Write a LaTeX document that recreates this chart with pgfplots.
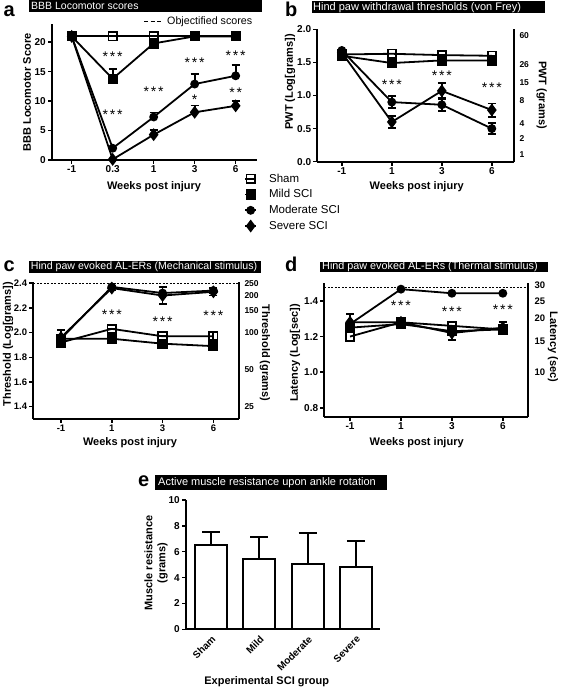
\documentclass[border=0pt]{standalone}
\usepackage{fontspec}
\setmainfont{Liberation Sans}
\usepackage{pgfplots}
\pgfplotsset{compat=1.18}
\newcommand\three{*\kern1.8pt*\kern1.8pt*}
\newcommand\two{*\kern1.8pt*}
\pgfplotsset{
 prism/.style={
  scale only axis, anchor=south west, clip=false,
  axis x line*=bottom, axis y line*=left,
  axis line style={line width=1.8pt,-},
  tick style={line width=1.5pt,black},
  tick align=outside, major tick length=4pt,
  tick label style={font=\bfseries\fontsize{10}{12}\selectfont},
  /pgf/number format/assume math mode=true,
  xticklabel style={inner sep=1.5pt},
  yticklabel style={inner sep=2pt},
  every axis plot/.append style={line width=1.8pt, black},
 },
 onedec/.style={y tick label style={/pgf/number format/fixed, /pgf/number format/fixed zerofill, /pgf/number format/precision=1}},
 sham/.style={mark=square, mark size=4.2pt, mark options={fill=white, solid, line width=1.8pt}},
 mild/.style={mark=square*, mark size=4.2pt, mark options={fill=black, solid}},
 mod/.style={mark=*, mark size=3.5pt, mark options={fill=black, solid}},
 sev/.style={mark=diamond*, mark size=5pt, mark options={fill=black, solid}},
 eb/.style={/pgfplots/error bars/y dir=#1, /pgfplots/error bars/y explicit,
   /pgfplots/error bars/error bar style={line width=1.8pt, black},
   /pgfplots/error bars/error mark options={rotate=90, line width=1.8pt, mark size=4pt, black}},
 eb/.default=both,
 objline/.style={line width=1pt, dash pattern=on 2pt off 1.5pt, mark=none},
}
\tikzset{
 star/.style={font=\fontsize{14}{14}\selectfont, inner sep=0pt, anchor=base, yshift=-8pt},
 rlab/.style={anchor=west, xshift=5pt, inner sep=0pt, font=\bfseries\fontsize{8.5}{10}\selectfont},
 bar/.style={anchor=west, text=white, inner sep=0pt},
 letter/.style={anchor=base west, inner sep=0pt, font=\bfseries\fontsize{20}{20}\selectfont},
 lab/.style={font=\bfseries\fontsize{11}{13}\selectfont, inner sep=0pt},
}
\begin{document}
\begin{tikzpicture}
\useasboundingbox (0pt,0pt) rectangle (560pt,690pt);

% ---------------- Panel a
\begin{axis}[prism, at={(52pt,530pt)}, width=205pt, height=136pt,
 xmin=-0.48, xmax=4.52, ymin=0, ymax=23.1,
 xtick={0,1,2,3,4}, xticklabels={-1,0.3,1,3,6},
 ytick={0,5,10,15,20},
 legend cell align=left,
 legend style={at={(0.937,-0.085)}, anchor=north west, draw=none, fill=none,
   font=\fontsize{11.5}{13}\selectfont, row sep=2pt, inner sep=0pt,
   /tikz/every odd column/.append style={column sep=10pt}},
 legend image code/.code={\draw[mark repeat=2,mark phase=2,#1] plot coordinates {(0pt,0pt) (5.5pt,0pt) (11pt,0pt)};},
]
\addplot[sham] coordinates {(0,21) (1,21) (2,21) (3,21) (4,21)};
\addplot[mild, eb=plus] coordinates {(0,21) +- (0,0) (1,13.8) +- (0,1.6) (2,19.8) +- (0,0.3) (3,21) +- (0,0) (4,21) +- (0,0)};
\addplot[mod, eb=plus] coordinates {(0,21) +- (0,0) (1,2.0) +- (0,0) (2,7.3) +- (0,0.75) (3,12.9) +- (0,1.7) (4,14.3) +- (0,1.85)};
\addplot[sev, eb=plus] coordinates {(0,21) +- (0,0) (1,0.1) +- (0,0) (2,4.3) +- (0,0.8) (3,8.1) +- (0,1.15) (4,9.2) +- (0,0.85)};
\legend{Sham, Mild SCI, Moderate SCI, Severe SCI}
\node[star] at (axis cs:1,18.1) {\three};
\node[star] at (axis cs:1,8.2) {\three};
\node[star] at (axis cs:2,12.2) {\three};
\node[star] at (axis cs:3,17.1) {\three};
\node[star] at (axis cs:3,10.8) {*};
\node[star] at (axis cs:4,18.2) {\three};
\node[star] at (axis cs:4,12.0) {\two};
\end{axis}

% ---------------- Panel b
\begin{axis}[prism, onedec, at={(317.3pt,528.3pt)}, width=197pt, height=132.4pt,
 xmin=-0.49, xmax=3.45, ymin=0, ymax=2,
 xtick={0,1,2,3}, xticklabels={-1,1,3,6},
 ytick={0,0.5,1,1.5,2},
]
\addplot[sham] coordinates {(0,1.62) (1,1.63) (2,1.61) (3,1.60)};
\addplot[mild] coordinates {(0,1.60) (1,1.49) (2,1.53) (3,1.53)};
\addplot[mod, eb] coordinates {(0,1.68) +- (0,0) (1,0.90) +- (0,0.09) (2,0.86) +- (0,0.10) (3,0.50) +- (0,0.08)};
\addplot[sev, eb] coordinates {(0,1.65) +- (0,0) (1,0.60) +- (0,0.09) (2,1.07) +- (0,0.12) (3,0.78) +- (0,0.10)};
\node[star] at (axis cs:1,1.21) {\three};
\node[star] at (axis cs:2,1.34) {\three};
\node[star] at (axis cs:3,1.16) {\three};
\draw[line width=1.8pt] (rel axis cs:1,0) -- (rel axis cs:1,1);
\node[rlab] at (axis cs:3.45,1.90) {60};
\node[rlab] at (axis cs:3.45,1.47) {26};
\node[rlab] at (axis cs:3.45,1.19) {15};
\node[rlab] at (axis cs:3.45,0.93) {8};
\node[rlab] at (axis cs:3.45,0.57) {4};
\node[rlab] at (axis cs:3.45,0.35) {2};
\node[rlab] at (axis cs:3.45,0.10) {1};
\end{axis}

% ---------------- Panel c
\begin{axis}[prism, onedec, at={(33.3pt,271pt)}, width=206pt, height=137.3pt,
 xmin=-0.545, xmax=3.51, ymin=1.3, ymax=2.412,
 xtick={0,1,2,3}, xticklabels={-1,1,3,6},
 ytick={1.4,1.6,1.8,2.0,2.2,2.4},
 tick label style={font=\bfseries\fontsize{9.5}{11}\selectfont},
]
\addplot[objline] coordinates {(-0.545,2.398) (3.51,2.398)};
\addplot[sham, eb] coordinates {(0,1.92) +- (0,0) (1,2.03) +- (0,0) (2,1.97) +- (0,0) (3,1.97) +- (0,0.03)};
\addplot[mild, eb] coordinates {(0,1.95) +- (0,0) (1,1.95) +- (0,0.03) (2,1.91) +- (0,0.02) (3,1.89) +- (0,0.02)};
\addplot[mod, eb] coordinates {(0,1.95) +- (0,0) (1,2.37) +- (0,0) (2,2.32) +- (0,0) (3,2.34) +- (0,0.02)};
\addplot[sev, eb] coordinates {(0,1.96) +- (0,0.06) (1,2.36) +- (0,0.02) (2,2.30) +- (0,0.07) (3,2.33) +- (0,0.03)};
\node[star] at (axis cs:1,2.17) {\three};
\node[star] at (axis cs:2,2.11) {\three};
\node[star] at (axis cs:3,2.16) {\three};
\draw[line width=1.8pt] (rel axis cs:1,0) -- (rel axis cs:1,1);
\node[rlab] at (axis cs:3.51,2.398) {250};
\node[rlab] at (axis cs:3.51,2.301) {200};
\node[rlab] at (axis cs:3.51,2.176) {150};
\node[rlab] at (axis cs:3.51,2.0) {100};
\node[rlab] at (axis cs:3.51,1.699) {50};
\node[rlab] at (axis cs:3.51,1.398) {25};
\end{axis}

% ---------------- Panel d
\begin{axis}[prism, onedec, at={(324.3pt,273.3pt)}, width=204pt, height=133.4pt,
 xmin=-0.505, xmax=3.50, ymin=0.75, ymax=1.499,
 xtick={0,1,2,3}, xticklabels={-1,1,3,6},
 ytick={0.8,1.0,1.2,1.4},
]
\addplot[objline] coordinates {(-0.505,1.477) (3.50,1.477)};
\addplot[sham] coordinates {(0,1.20) (1,1.28) (2,1.26) (3,1.24)};
\addplot[mild, eb] coordinates {(0,1.25) +- (0,0) (1,1.27) +- (0,0) (2,1.23) +- (0,0) (3,1.24) +- (0,0.02)};
\addplot[mod] coordinates {(0,1.27) (1,1.466) (2,1.443) (3,1.443)};
\addplot[sev, eb] coordinates {(0,1.28) +- (0,0.045) (1,1.28) +- (0,0.02) (2,1.22) +- (0,0.04) (3,1.25) +- (0,0.03)};
\node[star] at (axis cs:1,1.39) {\three};
\node[star] at (axis cs:2,1.36) {\three};
\node[star] at (axis cs:3,1.37) {\three};
\draw[line width=1.8pt] (rel axis cs:1,0) -- (rel axis cs:1,1);
\node[rlab, xshift=1pt, font=\bfseries\fontsize{9.5}{11}\selectfont] at (axis cs:3.50,1.49) {30};
\node[rlab, xshift=1pt, font=\bfseries\fontsize{9.5}{11}\selectfont] at (axis cs:3.50,1.398) {25};
\node[rlab, xshift=1pt, font=\bfseries\fontsize{9.5}{11}\selectfont] at (axis cs:3.50,1.301) {20};
\node[rlab, xshift=1pt, font=\bfseries\fontsize{9.5}{11}\selectfont] at (axis cs:3.50,1.176) {15};
\node[rlab, xshift=1pt, font=\bfseries\fontsize{9.5}{11}\selectfont] at (axis cs:3.50,1.0) {10};
\end{axis}

% ---------------- Panel e
\begin{axis}[prism, at={(186pt,60.7pt)}, width=194pt, height=129.3pt,
 xmin=-0.52, xmax=3.5, ymin=0, ymax=10,
 xtick={0,1,2,3}, xticklabels={Sham,Mild,Moderate,Severe},
 xtick style={draw=none},
 xticklabel style={rotate=45, anchor=north east, inner sep=1pt},
 ytick={0,2,4,6,8,10},
]
\addplot[ybar, bar width=32pt, fill=white, draw=black, line width=2pt,
  error bars/y dir=plus, error bars/y explicit,
  error bars/error bar style={line width=2pt, black},
  error bars/error mark options={rotate=90, line width=2pt, mark size=9pt, black}]
  coordinates {(0,6.5) +- (0,1.05) (1,5.45) +- (0,1.7) (2,5.05) +- (0,2.4) (3,4.85) +- (0,1.95)};
\end{axis}

% ---------------- Title bars and panel letters
\fill[black] (29pt,690pt) rectangle (262pt,678pt);
\node[bar, font=\fontsize{10.5}{12}\selectfont] at (31pt,684pt) {BBB Locomotor scores};
\fill[black] (311.7pt,689pt) rectangle (545pt,676.7pt);
\node[bar, font=\fontsize{11}{12}\selectfont] at (313pt,682.8pt) {Hind paw withdrawal thresholds (von Frey)};
\fill[black] (29.3pt,429pt) rectangle (261pt,417.3pt);
\node[bar, font=\fontsize{10.6}{12}\selectfont] at (30.7pt,423.1pt) {Hind paw evoked AL-ERs (Mechanical stimulus)};
\fill[black] (320pt,428.3pt) rectangle (548.3pt,418.3pt);
\node[bar, font=\fontsize{10.8}{12}\selectfont] at (322pt,423.3pt) {Hind paw evoked AL-ERs (Thermal stimulus)};
\fill[black] (155pt,215pt) rectangle (387.3pt,200pt);
\node[bar, font=\fontsize{11}{12}\selectfont] at (158pt,207.5pt) {Active muscle resistance upon ankle rotation};

\node[letter] at (3.3pt,673.3pt) {a};
\node[letter] at (285pt,673.3pt) {b};
\node[letter] at (3.3pt,418.3pt) {c};
\node[letter] at (285pt,418.3pt) {d};
\node[letter] at (138pt,203.3pt) {e};

% Objectified legend
\draw[line width=1.5pt, dash pattern=on 4pt off 2.5pt] (144pt,668.3pt) -- (162pt,668.3pt);
\node[anchor=west, inner sep=0pt, font=\fontsize{10.7}{12}\selectfont] at (167pt,668.3pt) {Objectified scores};

% Axis labels
\node[lab, rotate=90] at (27pt,597.5pt) {BBB Locomotor Score};
\node[lab] at (154pt,503pt) {Weeks post injury};
\node[lab, rotate=90] at (290pt,608pt) {PWT (Log[grams])};
\node[lab, rotate=-90] at (541.7pt,595pt) {PWT (grams)};
\node[lab] at (416.7pt,503.3pt) {Weeks post injury};
\node[lab, rotate=90] at (8pt,346pt) {Threshold (Log[grams])};
\node[lab, rotate=-90] at (265pt,337pt) {Threshold (grams)};
\node[lab] at (130pt,247.3pt) {Weeks post injury};
\node[lab, rotate=90] at (295pt,337pt) {Latency (Log[sec])};
\node[lab, rotate=-90] at (553pt,343pt) {Latency (sec)};
\node[lab] at (416.7pt,247.3pt) {Weeks post injury};
\node[lab, rotate=90, align=center] at (156pt,127pt) {Muscle resistance\\(grams)};
\node[lab] at (266.7pt,8pt) {Experimental SCI group};
\end{tikzpicture}
\end{document}
